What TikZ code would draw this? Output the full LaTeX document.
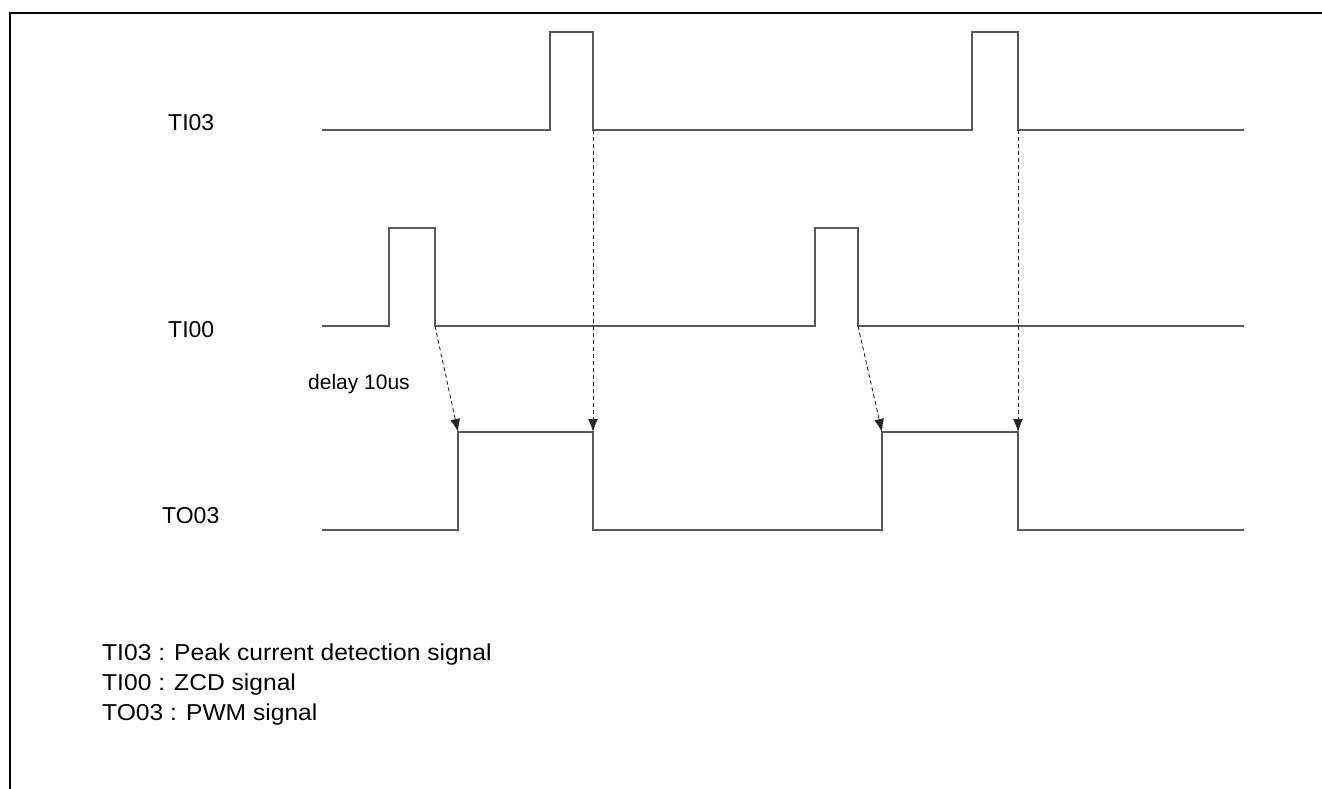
\documentclass[tikz,border=0pt]{standalone}
\usepackage{fontspec}
\setmainfont{Liberation Sans}
\newfontfamily\widesans[FakeStretch=1.07]{Liberation Sans}
\usetikzlibrary{arrows.meta}
\begin{document}
\begin{tikzpicture}[x=1pt,y=-1pt,
  wave/.style={draw=black!65,line width=1.2pt},
  frame/.style={draw=black,line width=2pt},
  conn/.style={draw=black!85,line width=0.9pt,dash pattern=on 4pt off 3pt,-{Latex[length=13pt,width=10pt]}},
  siglabel/.style={anchor=base west,inner sep=0pt,font=\fontsize{23}{27}\selectfont},
  delaylabel/.style={anchor=base west,inner sep=0pt,font=\fontsize{21}{25}\selectfont},
  legend/.style={anchor=base west,inner sep=0pt,font=\widesans\fontsize{23}{27}\selectfont}]
\useasboundingbox (0,0) rectangle (1322,789);
\fill[white] (0,0) rectangle (1322,789);
% frame (top and left edges visible)
\coordinate (fTR) at (1322,13);
\coordinate (fTL) at (10,13);
\coordinate (fBL) at (10,789);
\draw[frame] (fTR) -- (fTL) -- (fBL);
% labels
\node[siglabel] (lTI03) at (168,131) {TI03};
\node[siglabel] (lTI00) at (168,337) {TI00};
\node[siglabel] (lTO03) at (162,523) {TO03};
\node[delaylabel] (ldelay) at (308,389) {delay 10us};
% TI03 waveform
\coordinate (a0) at (322,130);
\coordinate (a1) at (550,130);
\coordinate (a2) at (550,32);
\coordinate (a3) at (593,32);
\coordinate (a4) at (593,130);
\coordinate (a5) at (972,130);
\coordinate (a6) at (972,32);
\coordinate (a7) at (1018,32);
\coordinate (a8) at (1018,130);
\coordinate (a9) at (1244,130);
\draw[wave] (a0) -- (a1) -- (a2) -- (a3) -- (a4) -- (a5) -- (a6) -- (a7) -- (a8) -- (a9);
% TI00 waveform
\coordinate (b0) at (322,326);
\coordinate (b1) at (389,326);
\coordinate (b2) at (389,228);
\coordinate (b3) at (435,228);
\coordinate (b4) at (435,326);
\coordinate (b5) at (815,326);
\coordinate (b6) at (815,228);
\coordinate (b7) at (858,228);
\coordinate (b8) at (858,326);
\coordinate (b9) at (1244,326);
\draw[wave] (b0) -- (b1) -- (b2) -- (b3) -- (b4) -- (b5) -- (b6) -- (b7) -- (b8) -- (b9);
% TO03 waveform
\coordinate (c0) at (322,530);
\coordinate (c1) at (458,530);
\coordinate (c2) at (458,432);
\coordinate (c3) at (593,432);
\coordinate (c4) at (593,530);
\coordinate (c5) at (882,530);
\coordinate (c6) at (882,432);
\coordinate (c7) at (1018,432);
\coordinate (c8) at (1018,530);
\coordinate (c9) at (1244,530);
\draw[wave] (c0) -- (c1) -- (c2) -- (c3) -- (c4) -- (c5) -- (c6) -- (c7) -- (c8) -- (c9);
% causal arrows
\draw[conn] (b4) -- (c2);
\draw[conn] (b8) -- (c6);
\draw[conn] (a4) -- (c3);
\draw[conn] (a8) -- (c7);
% legend
\node[legend] (leg1) at (102,660) {TI03 : Peak current detection signal};
\node[legend] (leg2) at (102,690) {TI00 : ZCD signal};
\node[legend] (leg3) at (102,720) {TO03 : PWM signal};
\end{tikzpicture}
\end{document}
